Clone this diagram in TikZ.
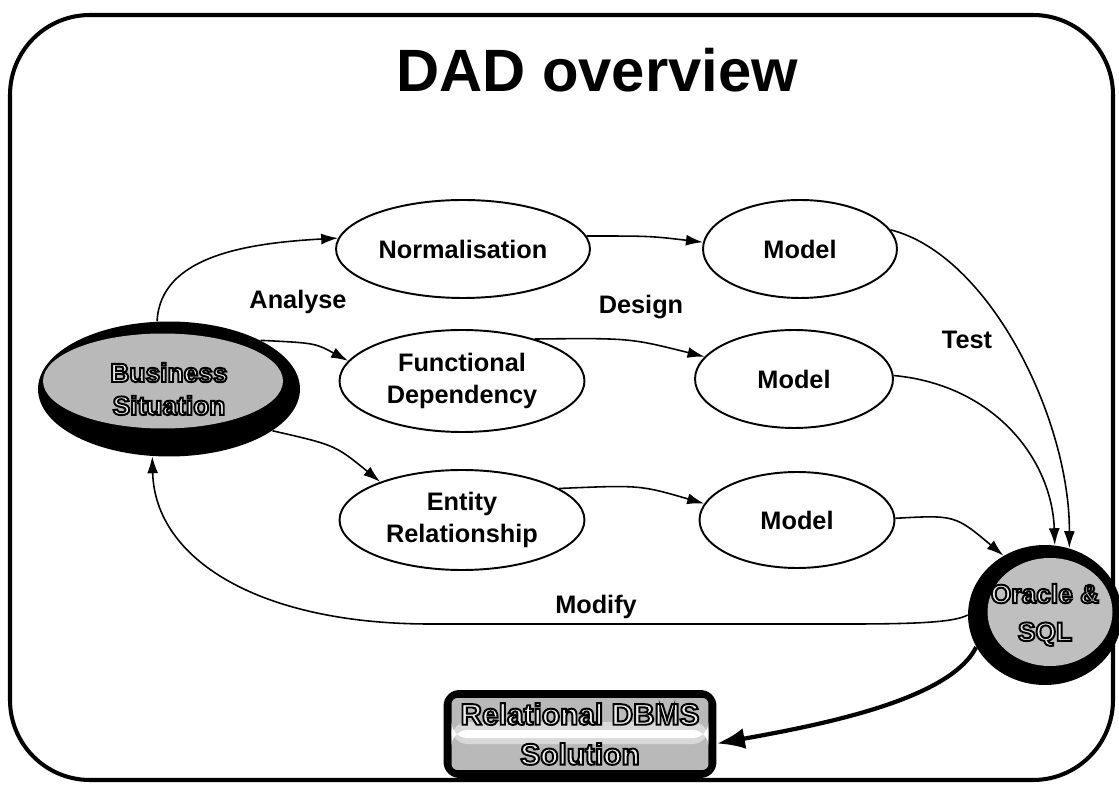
\documentclass[tikz,border=0pt]{standalone}
\usepackage{fontspec}
\setmainfont{Liberation Sans}
\usetikzlibrary{arrows.meta,shapes.geometric}

% light letters with a black outline (fill and stroke render mode)
\newcommand\haloed[1]{\textcolor{gray!15}{\special{pdf:literal direct 0 0 0 RG 1.1 w 2 Tr}#1\special{pdf:literal direct 0 Tr 0.4 w}}}

\tikzset{
	stage/.style={ellipse, draw, line width=1.1pt, inner sep=0pt, align=center,
		font=\fontsize{14.4}{18}\selectfont\bfseries},
	darkblob/.style={ellipse, fill=black, inner sep=0pt, align=center},
	steplabel/.style={font=\fontsize{14.4}{18}\selectfont\bfseries},
	flow/.style={-{Latex[length=0.34cm,width=0.22cm]}, line width=0.9pt},
	bigflow/.style={-{Latex[length=0.56cm,width=0.42cm]}, line width=2.4pt},
}

\begin{document}
\begin{tikzpicture}[x=0.02cm, y=-0.02cm]

		% --- Page and frame ---
		\useasboundingbox (0,0) rectangle (1119,786);
		\draw[line width=2.3pt, rounded corners=1.6cm] (10,15) rectangle (1113,780);

		% --- Title ---
		\node[font=\fontsize{34}{40}\selectfont\bfseries] (title) at (597,70) {DAD overview};

		% --- Stages ---
		\node[stage, minimum width=5.08cm, minimum height=1.96cm] (norm) at (463,249) {Normalisation};
		\node[stage, minimum width=3.88cm, minimum height=1.96cm] (modA) at (800,249) {Model};
		\node[stage, minimum width=4.9cm, minimum height=2.04cm] (func) at (462,381) {Functional\\Dependency};
		\node[stage, minimum width=3.96cm, minimum height=1.96cm] (modB) at (794,379) {Model};
		\node[stage, minimum width=4.9cm, minimum height=2.0cm] (ent) at (462,520) {Entity\\Relationship};
		\node[stage, minimum width=3.9cm, minimum height=1.92cm] (modC) at (797,520) {Model};

		% --- Start and end ---
		\node[darkblob, minimum width=5.24cm, minimum height=2.7cm,
			font=\fontsize{15}{18.7}\selectfont\bfseries,
			path picture={\fill[gray!55] ([shift={(-6,-8)}]path picture bounding box.center)
				ellipse [x radius=2.4cm, y radius=0.95cm];}]
			(biz) at (169,389) {\haloed{Business}\\\haloed{Situation}};
		\node[darkblob, minimum width=3.08cm, minimum height=2.8cm,
			font=\fontsize{15}{21.5}\selectfont\bfseries,
			path picture={\fill[gray!50] ([shift={(5,-3)}]path picture bounding box.center)
				ellipse [x radius=1.25cm, y radius=1.08cm];}]
			(ora) at (1045,615) {\haloed{Oracle \&}\\\haloed{SQL}};
		\node[rectangle, rounded corners=0.32cm, fill=black, minimum width=5.46cm, minimum height=1.76cm,
			align=center, font=\fontsize{17}{22.7}\selectfont\bfseries,
			path picture={
				\fill[gray!55, rounded corners=0.12cm] ([shift={(8,8)}]path picture bounding box.north west)
					rectangle ([shift={(-8,-8)}]path picture bounding box.south east);
				\fill[gray!30] ([shift={(8,-12)}]path picture bounding box.west)
					rectangle ([shift={(-8,10)}]path picture bounding box.east);
				\fill[white] ([shift={(8,-4)}]path picture bounding box.west)
					rectangle ([shift={(-8,4)}]path picture bounding box.east);}]
			(rel) at (580,734) {\haloed{Relational DBMS}\\\haloed{Solution}};

		% --- Labels ---
		\node[steplabel] (analyse) at (298,302) {Analyse};
		\node[steplabel] (design) at (641,307) {Design};
		\node[steplabel] (test) at (967,340) {Test};
		\node[steplabel] (modify) at (596,607) {Modify};

		% --- Connectors ---
		\draw[flow] (biz.100) .. controls (160,255) and (250,243) .. (norm.175);
		\draw[flow] (biz.28) .. controls (315,343) .. (func.170);
		\draw[flow] (biz.-22) .. controls (335,445) .. (ent.155);
		\draw[flow] (norm.6) .. controls (650,236) .. (modA.176);
		\draw[flow] (func.30) .. controls (630,338) .. (modB.166);
		\draw[flow] (ent.18) .. controls (640,485) .. (modC.170);
		\draw[flow] (modA.12) .. controls (990,255) and (1070,420) .. (ora.70);
		\draw[flow] (modB.2) .. controls (995,385) and (1052,460) .. (ora.82);
		\draw[flow] (modC.1) .. controls (955,515) .. (ora.125);
		\draw[flow] (ora.west) .. controls (955,622) and (920,624) .. (850,624) -- (430,624)
			.. controls (260,624) and (155,560) .. (biz.-104);
		\draw[bigflow] (ora.205) .. controls (950,700) and (820,725) .. (rel.-4);

	\end{tikzpicture}
\end{document}
